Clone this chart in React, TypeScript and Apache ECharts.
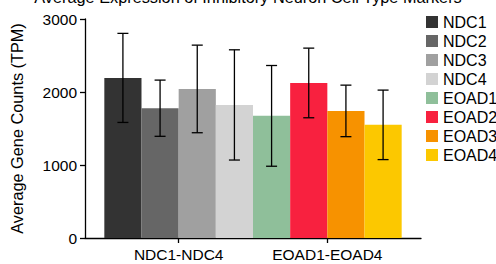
import React, { useEffect, useRef } from "react";
import * as echarts from "echarts";

const categories = ["NDC1-NDC4", "EOAD1-EOAD4"];
const seriesNames = ["NDC1", "NDC2", "NDC3", "NDC4", "EOAD1", "EOAD2", "EOAD3", "EOAD4"];
const seriesGroup = [0, 0, 0, 0, 1, 1, 1, 1];
const seriesSlot = [0, 1, 2, 3, 0, 1, 2, 3];
const meanValues = [2193, 1778, 2042, 1823, 1673, 2124, 1741, 1550];
const sdValues = [610, 385, 600, 755, 690, 477, 353, 476];
const colors = ["#333333", "#666666", "#a0a0a0", "#d3d3d3", "#8fbf9a", "#f8213f", "#f79200", "#fcc800"];
const yTicks = [0, 1000, 2000, 3000];

const FONT = "Liberation Sans, Arial, Helvetica, sans-serif";

export default function App() {
  const ref = useRef<HTMLDivElement>(null);
  useEffect(() => {
    if (!ref.current) return;
    const chart = echarts.init(ref.current, undefined, { renderer: "svg" });
    const barW = 0.25;
    const series = seriesNames.map((name, i) => ({
      name,
      type: "custom",
      itemStyle: { color: colors[i] },
      data: [[seriesGroup[i], meanValues[i], sdValues[i], seriesSlot[i]]],
      renderItem: (_params: any, api: any) => {
        const cat = api.value(0);
        const v = api.value(1);
        const sd = api.value(2);
        const slot = api.value(3);
        const xc = cat + (slot - 1.5) * barW;
        const p0 = api.coord([xc - barW / 2, v]);
        const p1 = api.coord([xc + barW / 2, 0]);
        const top = api.coord([xc, v + sd]);
        const bot = api.coord([xc, v - sd]);
        const cap = 5.5;
        const lineStyle = { stroke: "#000", lineWidth: 1.3 };
        return {
          type: "group",
          children: [
            {
              type: "rect",
              shape: { x: p0[0], y: p0[1], width: p1[0] - p0[0], height: p1[1] - p0[1] },
              style: { fill: colors[i] },
            },
            { type: "line", shape: { x1: top[0], y1: top[1], x2: bot[0], y2: bot[1] }, style: lineStyle },
            { type: "line", shape: { x1: top[0] - cap, y1: top[1], x2: top[0] + cap, y2: top[1] }, style: lineStyle },
            { type: "line", shape: { x1: bot[0] - cap, y1: bot[1], x2: bot[0] + cap, y2: bot[1] }, style: lineStyle },
          ],
        };
      },
    }));
    chart.setOption({
      animation: false,
      title: {
        text: "Average Expression of Inhibitory Neuron Cell Type Markers",
        left: "center",
        top: -11,
        padding: 0,
        textStyle: { fontFamily: FONT, fontSize: 16.3, fontWeight: "normal", color: "#000" },
      },
      legend: {
        orient: "vertical",
        left: 426,
        top: 14,
        itemWidth: 12,
        itemHeight: 12,
        itemGap: 3,
        icon: "rect",
        padding: 0,
        data: seriesNames,
        textStyle: { fontFamily: FONT, fontSize: 16, color: "#000" },
      },
      grid: { left: 85, right: 75, top: 19, bottom: 26 },
      xAxis: {
        type: "value",
        min: -0.63,
        max: 1.63,
        splitLine: { show: false },
        axisLine: { show: true, onZero: false, lineStyle: { color: "#000", width: 1.3 } },
        axisTick: { show: true, length: 5, customValues: [0, 1], lineStyle: { color: "#000", width: 1.3 } },
        axisLabel: {
          customValues: [0, 1],
          formatter: (v: number) => categories[Math.round(v)] ?? "",
          fontFamily: FONT,
          fontSize: 15.5,
          color: "#000",
          margin: 8,
        },
      },
      yAxis: {
        type: "value",
        min: yTicks[0],
        max: yTicks[yTicks.length - 1],
        interval: 1000,
        name: "Average Gene Counts (TPM)",
        nameLocation: "middle",
        nameGap: 60,
        nameTextStyle: { fontFamily: FONT, fontSize: 16.3, color: "#000" },
        splitLine: { show: false },
        axisLine: { show: true, onZero: false, lineStyle: { color: "#000", width: 1.3 } },
        axisTick: { show: true, length: 5, lineStyle: { color: "#000", width: 1.3 } },
        axisLabel: {
          fontFamily: FONT,
          fontSize: 15.5,
          color: "#000",
          margin: 8,
          formatter: (v: number) => String(v),
        },
      },
      series,
    });
    return () => chart.dispose();
  }, []);
  return <div ref={ref} style={{ width: 496, height: 264, position: "absolute", left: 0, top: 0 }} />;
}
